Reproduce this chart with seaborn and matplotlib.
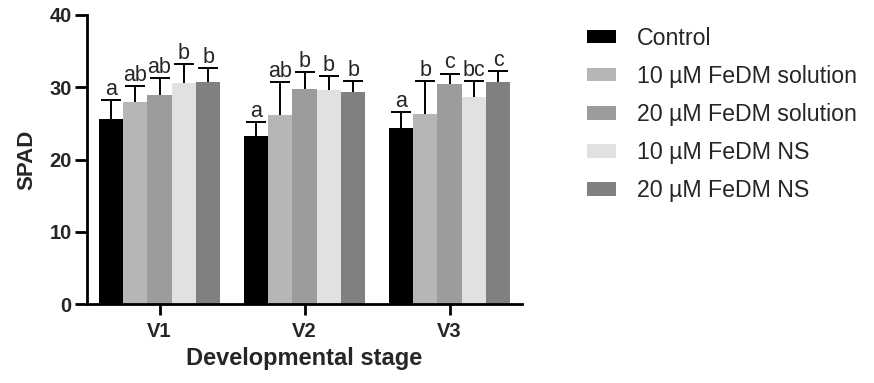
import pandas as pd
import numpy as np
import matplotlib
matplotlib.use("Agg")
import matplotlib.pyplot as plt
import seaborn as sns

# data
stages = ["V1", "V2", "V3"]
treatments = ["Control", "10 µM FeDM solution", "20 µM FeDM solution",
              "10 µM FeDM NS", "20 µM FeDM NS"]
means = {
    "Control":             [25.6, 23.2, 24.4],
    "10 µM FeDM solution": [27.9, 26.2, 26.3],
    "20 µM FeDM solution": [28.9, 29.8, 30.5],
    "10 µM FeDM NS":       [30.6, 29.6, 28.6],
    "20 µM FeDM NS":       [30.7, 29.4, 30.7],
}
sds = {
    "Control":             [2.6, 2.0, 2.2],
    "10 µM FeDM solution": [2.3, 4.5, 4.5],
    "20 µM FeDM solution": [2.4, 2.3, 1.4],
    "10 µM FeDM NS":       [2.6, 1.9, 2.3],
    "20 µM FeDM NS":       [2.0, 1.5, 1.5],
}
letters = {
    "Control":             ["a", "a", "a"],
    "10 µM FeDM solution": ["ab", "ab", "b"],
    "20 µM FeDM solution": ["ab", "b", "c"],
    "10 µM FeDM NS":       ["b", "b", "bc"],
    "20 µM FeDM NS":       ["b", "b", "c"],
}
colors = ["#000000", "#b5b6b5", "#9b9c9b", "#e0e1e0", "#808080"]

rows = []
for t in treatments:
    for i, s in enumerate(stages):
        rows.append({"Stage": s, "Treatment": t, "SPAD": means[t][i],
                     "SD": sds[t][i], "Letter": letters[t][i]})
df = pd.DataFrame(rows)

sns.set_theme(style="ticks")
plt.rcParams["font.family"] = ["Liberation Sans", "DejaVu Sans"]

fig = plt.figure(figsize=(8.74, 3.83), dpi=100)
ax = fig.add_axes([87 / 874, 79 / 383, 435 / 874, 289 / 383])

sns.barplot(data=df, x="Stage", y="SPAD", hue="Treatment", hue_order=treatments,
            palette=colors, width=0.84, gap=0, errorbar=None, saturation=1,
            linewidth=0, ax=ax, legend=True)

# upward error bars and letters, placed on the drawn bars
for cont, t in zip(ax.containers, treatments):
    sub = df[df["Treatment"] == t].set_index("Stage").loc[stages]
    xs = [p.get_x() + p.get_width() / 2 for p in cont.patches]
    hs = [p.get_height() for p in cont.patches]
    eb = ax.errorbar(xs, hs, yerr=[np.zeros(len(xs)), sub["SD"].values], fmt="none",
                     ecolor="black", elinewidth=1.4, capsize=7.5, capthick=1.4)
    eb[1][0].set_visible(False)  # no cap at the bar top
    for x, h, e, lab in zip(xs, hs, sub["SD"].values, sub["Letter"].values):
        ax.text(x, h + e + 0.7, lab, ha="center", va="baseline", fontsize=15.5)

ax.set_ylim(0, 40)
ax.set_xlim(-0.5, 2.5)
ax.set_yticks([0, 10, 20, 30, 40])
ax.set_ylabel("SPAD", fontsize=16, fontweight="bold", labelpad=9)
ax.set_xlabel("Developmental stage", fontsize=17, fontweight="bold", labelpad=4)
for lab in ax.get_xticklabels() + ax.get_yticklabels():
    lab.set_fontweight("bold")
ax.tick_params(axis="both", labelsize=14.5, length=9, width=2, color="black", direction="out")
ax.tick_params(axis="y", pad=2)
ax.tick_params(axis="x", pad=5, length=8)
sns.despine(ax=ax)
for sp in ["left", "bottom"]:
    ax.spines[sp].set_linewidth(2)
    ax.spines[sp].set_color("black")

handles, labs = ax.get_legend_handles_labels()
ax.get_legend().remove()
fig.legend(handles, labs, loc="upper left", bbox_to_anchor=(587 / 874, 1 - 27 / 383),
           frameon=False, fontsize=16.7, handlelength=1.25, handleheight=0.5,
           labelspacing=0.65, handletextpad=0.9, borderpad=0, borderaxespad=0)

fig.savefig("out.png", dpi=100)
